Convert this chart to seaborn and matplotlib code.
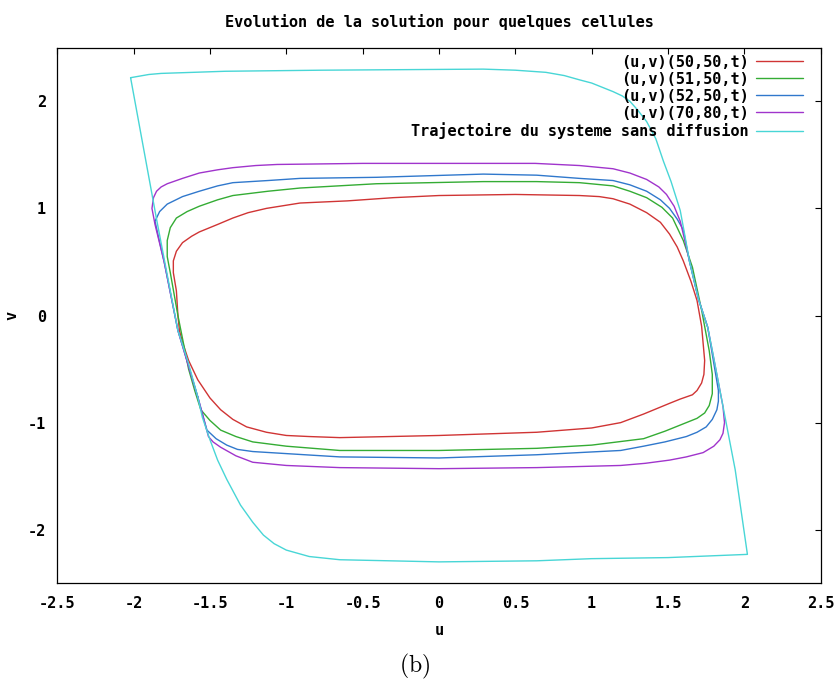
import numpy as np
import pandas as pd
import matplotlib
matplotlib.use("Agg")
import matplotlib.pyplot as plt
import seaborn as sns

# ---- data ----
labels = ["(u,v)(50,50,t)", "(u,v)(51,50,t)", "(u,v)(52,50,t)", "(u,v)(70,80,t)",
          "Trajectoire du systeme sans diffusion"]
colors = ["#d03434", "#34ac34", "#3078cc", "#a034cc", "#48d6d6"]

u_50_50 = [-1.70, -1.71, -1.72, -1.74, -1.74, -1.72, -1.68, -1.62, -1.57, -1.45, -1.35, -1.25, -1.13,
           -0.91, -0.60, -0.30, 0.00, 0.50, 0.92, 1.05, 1.14, 1.25, 1.36, 1.45, 1.51, 1.56, 1.60,
           1.65, 1.69, 1.72, 1.74, 1.735, 1.72, 1.69, 1.66, 1.58, 1.51, 1.34, 1.19, 1.00, 0.64,
           0.00, -0.65, -0.85, -1.00, -1.13, -1.26, -1.35, -1.43, -1.50, -1.58, -1.64, -1.68, -1.70]
v_50_50 = [-0.14, 0.00, 0.23, 0.40, 0.51, 0.60, 0.68, 0.74, 0.78, 0.85, 0.91, 0.96, 1.00,
           1.05, 1.07, 1.10, 1.12, 1.13, 1.12, 1.11, 1.09, 1.04, 0.96, 0.87, 0.76, 0.64, 0.51,
           0.32, 0.14, -0.10, -0.42, -0.55, -0.63, -0.70, -0.74, -0.78, -0.82, -0.92, -1.00, -1.05, -1.09,
           -1.12, -1.14, -1.13, -1.12, -1.09, -1.04, -0.97, -0.88, -0.77, -0.60, -0.42, -0.25, -0.14]

u_51_50 = [-1.64, -1.71, -1.76, -1.78, -1.78, -1.76, -1.72, -1.65, -1.57, -1.45, -1.35, -1.12, -0.91,
           -0.41, 0.29, 0.64, 0.92, 1.14, 1.25, 1.36, 1.46, 1.53, 1.60, 1.66, 1.72, 1.77, 1.79,
           1.79, 1.77, 1.74, 1.69, 1.62, 1.48, 1.34, 1.00, 0.64, 0.00, -0.65, -1.00, -1.22, -1.33,
           -1.43, -1.50, -1.56, -1.60, -1.64]
v_51_50 = [-0.50, 0.00, 0.40, 0.55, 0.70, 0.82, 0.91, 0.97, 1.02, 1.08, 1.12, 1.16, 1.19,
           1.23, 1.25, 1.25, 1.24, 1.21, 1.16, 1.10, 1.01, 0.91, 0.70, 0.45, 0.05, -0.33, -0.55,
           -0.73, -0.84, -0.91, -0.96, -1.00, -1.08, -1.15, -1.21, -1.24, -1.26, -1.26, -1.22, -1.18, -1.13,
           -1.07, -0.98, -0.88, -0.70, -0.50]

u_52_50 = [-1.58, -1.71, -1.80, -1.84, -1.86, -1.83, -1.78, -1.68, -1.57, -1.45, -1.35, -1.12, -0.91,
           -0.41, 0.29, 0.64, 0.92, 1.14, 1.25, 1.36, 1.45, 1.51, 1.56, 1.60, 1.64, 1.70, 1.76,
           1.83, 1.83, 1.82, 1.79, 1.75, 1.69, 1.62, 1.48, 1.34, 1.19, 0.64, 0.00, -0.65, -1.22,
           -1.32, -1.39, -1.46, -1.52, -1.58]
v_52_50 = [-0.76, -0.14, 0.50, 0.75, 0.88, 0.97, 1.04, 1.11, 1.16, 1.21, 1.24, 1.26, 1.28,
           1.29, 1.32, 1.31, 1.28, 1.26, 1.22, 1.16, 1.08, 1.00, 0.90, 0.80, 0.51, 0.15, -0.11,
           -0.70, -0.80, -0.88, -0.97, -1.04, -1.09, -1.13, -1.18, -1.22, -1.26, -1.30, -1.33, -1.32, -1.27,
           -1.25, -1.21, -1.15, -1.07, -0.76]

u_70_80 = [-1.58, -1.71, -1.80, -1.86, -1.88, -1.87, -1.85, -1.82, -1.78, -1.68, -1.57, -1.45, -1.35,
           -1.20, -1.06, -0.50, 0.00, 0.63, 0.92, 1.14, 1.25, 1.36, 1.44, 1.49, 1.54, 1.58, 1.61,
           1.64, 1.70, 1.76, 1.84, 1.86, 1.87, 1.86, 1.84, 1.80, 1.73, 1.62, 1.51, 1.35, 1.19,
           0.64, 0.00, -0.65, -1.00, -1.22, -1.33, -1.43, -1.48, -1.51, -1.58]
v_70_80 = [-0.76, -0.14, 0.50, 0.85, 1.00, 1.10, 1.16, 1.20, 1.23, 1.28, 1.33, 1.36, 1.38,
           1.40, 1.41, 1.42, 1.42, 1.42, 1.40, 1.37, 1.33, 1.27, 1.20, 1.13, 1.02, 0.88, 0.70,
           0.51, 0.15, -0.11, -0.70, -0.85, -1.00, -1.10, -1.16, -1.22, -1.28, -1.32, -1.35, -1.38, -1.40,
           -1.42, -1.43, -1.42, -1.40, -1.37, -1.31, -1.23, -1.18, -1.13, -0.76]

u_free = [-2.02, -1.90, -1.82, -1.40, -0.77, 0.29, 0.50, 0.70, 0.82, 0.92, 1.00, 1.07, 1.14, 1.20,
          1.25, 1.30, 1.36, 1.42, 1.47, 1.52, 1.58, 1.61, 1.64, 1.70, 1.76, 1.80, 1.84, 1.94,
          2.02, 1.50, 1.00, 0.64, 0.00, -0.65, -0.85, -1.00, -1.08, -1.15, -1.22, -1.30, -1.39,
          -1.45, -1.50, -1.55, -1.58, -1.64, -1.71, -1.85, -2.02]
v_free = [2.22, 2.25, 2.26, 2.28, 2.29, 2.30, 2.29, 2.27, 2.24, 2.20, 2.17, 2.13, 2.09, 2.05,
          2.00, 1.92, 1.81, 1.65, 1.44, 1.25, 0.98, 0.75, 0.51, 0.15, -0.11, -0.40, -0.70, -1.44,
          -2.23, -2.26, -2.27, -2.29, -2.30, -2.28, -2.25, -2.19, -2.13, -2.05, -1.93, -1.77, -1.53,
          -1.35, -1.16, -0.95, -0.76, -0.45, -0.14, 0.90, 2.22]

x_ticks = [-2.5, -2, -1.5, -1, -0.5, 0, 0.5, 1, 1.5, 2, 2.5]
x_tick_labels = ["-2.5", "-2", "-1.5", "-1", "-0.5", "0", "0.5", "1", "1.5", "2", "2.5"]
y_ticks = [-2, -1, 0, 1, 2]
y_tick_labels = ["-2", "-1", "0", "1", "2"]

title = "Evolution de la solution pour quelques cellules"
x_label = "u"
y_label = "v"
caption = r"$\mathrm{(b)}$"

# ---- long table ----
series_u = [u_50_50, u_51_50, u_52_50, u_70_80, u_free]
series_v = [v_50_50, v_51_50, v_52_50, v_70_80, v_free]
frames = []
for lab, uu, vv in zip(labels, series_u, series_v):
    frames.append(pd.DataFrame({"u": uu, "v": vv, "serie": lab, "order": np.arange(len(uu))}))
df = pd.concat(frames, ignore_index=True)

# ---- style ----
sns.set_style("white")
plt.rcParams["font.family"] = ["DejaVu Sans Mono"]
plt.rcParams["font.weight"] = "bold"
plt.rcParams["axes.unicode_minus"] = False
plt.rcParams["mathtext.fontset"] = "cm"
plt.rcParams["text.color"] = "black"
plt.rcParams["axes.labelcolor"] = "black"

fig = plt.figure(figsize=(8.4, 6.84), dpi=100)
ax = fig.add_axes([57.3 / 840, 1 - 583.3 / 684, (820.7 - 57.3) / 840, (583.3 - 47.7) / 684])

sns.lineplot(data=df, x="u", y="v", hue="serie", hue_order=labels,
             palette=dict(zip(labels, colors)), sort=False, estimator=None,
             units="serie", linewidth=1.0, ax=ax)

ax.set_xlim(-2.5, 2.5)
ax.set_ylim(-2.5, 2.5)
ax.set_xticks(x_ticks, x_tick_labels)
ax.set_yticks(y_ticks, y_tick_labels)
ax.tick_params(direction="in", top=True, right=True, length=4.3, width=0.8,
               labelsize=11, colors="black")
ax.tick_params(axis="x", pad=9)
ax.tick_params(axis="y", pad=8)
for lab in ax.get_xticklabels() + ax.get_yticklabels():
    lab.set_fontweight("bold")
for sp in ax.spines.values():
    sp.set_color("black")
    sp.set_linewidth(0.9)

ax.set_xlabel(x_label, fontsize=11, fontweight="bold", color="black")
ax.set_ylabel(y_label, fontsize=11, fontweight="bold", color="black")
ax.xaxis.set_label_coords(0.5, -0.075)
ax.yaxis.set_label_coords(-0.05, 0.5)

handles, labs = ax.get_legend_handles_labels()
leg = ax.legend(handles, labs, loc="upper right", bbox_to_anchor=(0.9768, 0.987),
                frameon=False, markerfirst=False, borderpad=0, borderaxespad=0,
                labelspacing=0.13, handlelength=3.1, handletextpad=0.45,
                prop={"family": "DejaVu Sans Mono", "weight": "bold", "size": 11})
for t in leg.get_texts():
    t.set_color("black")

fig.text(439 / 840, 1 - 22 / 684, title, ha="center", va="center",
         fontsize=11, fontweight="bold", color="black")
fig.text(415 / 840, 1 - 666 / 684, caption, ha="center", va="center", fontsize=17,
         color="black")

fig.savefig("out.png", dpi=100, facecolor="white")
